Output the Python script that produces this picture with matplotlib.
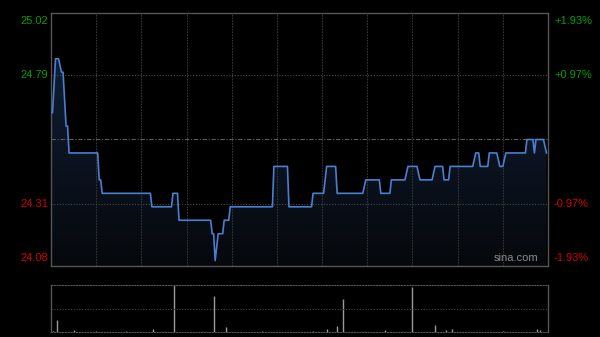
import numpy as np
import matplotlib
matplotlib.use('Agg')
import matplotlib.pyplot as plt
from matplotlib.patches import Polygon

####################################################################################################
# intraday price (minute index from open, price) - step points
minutes = [0, 1, 3, 5, 7, 8, 10, 11, 12, 31, 32, 33, 34, 66, 67, 80, 81, 84, 85,
           106, 107, 108, 109, 111, 114, 115, 118, 119, 147, 148, 157, 158, 173, 174,
           181, 183, 189, 190, 207, 209, 218, 219, 225, 226, 235, 237, 243, 245, 253,
           255, 260, 261, 264, 265, 280, 282, 284, 285, 290, 291, 296, 298, 300, 302,
           315, 316, 320, 321, 322, 327, 329]
prices = [24.65, 24.65, 24.85, 24.85, 24.80, 24.80, 24.60, 24.60, 24.50, 24.50, 24.40, 24.40, 24.35,
          24.35, 24.30, 24.30, 24.35, 24.35, 24.25,
          24.25, 24.20, 24.20, 24.10, 24.20, 24.20, 24.25, 24.25, 24.30, 24.30, 24.45, 24.45, 24.30,
          24.30, 24.35,
          24.35, 24.45, 24.45, 24.35, 24.35, 24.40, 24.40, 24.35, 24.35, 24.40, 24.40, 24.45, 24.45,
          24.40, 24.40,
          24.45, 24.45, 24.40, 24.40, 24.45, 24.45, 24.50, 24.50, 24.45, 24.45, 24.50, 24.50, 24.45,
          24.45, 24.50,
          24.50, 24.55, 24.55, 24.50, 24.55, 24.55, 24.50]

# volume spikes (minute index, volume)
vol_minutes = [1, 4, 15, 30, 50, 68, 82, 108, 116, 140, 174, 183, 190, 194, 222, 240,
               255, 262, 266, 300, 323, 325]
volumes = [1, 12, 2, 1, 1, 3.3, 47, 36, 5, 1, 1, 3.3, 6, 33, 2, 45,
           7.3, 2, 3.3, 1, 3.3, 2]

prev_close = 24.55
y_low, y_high = 24.08, 25.02
left_ticks = [25.02, 24.79, 24.31, 24.08]
right_ticks = ['+1.93%', '+0.97%', '-0.97%', '-1.93%']
total_minutes = 330

####################################################################################################
plt.rcParams['font.family'] = ['Liberation Sans', 'DejaVu Sans']

fig = plt.figure(figsize=(6, 3.37), dpi=100, facecolor='black')
ax = fig.add_axes([51/600, 1 - 266/337, 497/600, 253/337], facecolor='black')
axv = fig.add_axes([51/600, 1 - 332/337, 497/600, 47/337], facecolor='black')

ax.set_xlim(0, total_minutes)
ax.set_ylim(y_low, y_high)

# gradient fill under the line
poly = Polygon(list(zip(minutes, prices)) + [(minutes[-1], y_low), (minutes[0], y_low)],
               closed=True, facecolor='none', edgecolor='none')
ax.add_patch(poly)
grad = np.linspace(1, 0, 256).reshape(-1, 1)
top_c = np.array([16, 30, 52]) / 255
bot_c = np.array([6, 8, 12]) / 255
img = top_c * grad[..., None] + bot_c * (1 - grad[..., None])
im = ax.imshow(img, extent=[0, total_minutes, y_low, max(prices)], aspect='auto',
               origin='upper', zorder=1)
im.set_clip_path(poly)

ax.plot(minutes, prices, color='#4a7fd0', lw=1.2, zorder=4)

# grid
for m in range(30, total_minutes, 30):
    ax.axvline(m, color='#353535', lw=0.8, ls=(0, (1.5, 1)), zorder=2)
for p in [24.79, 24.31]:
    ax.axhline(p, color='#4a4a4a', lw=0.8, ls=(0, (1, 1.5)), zorder=2)
ax.axhline(prev_close, color='#5a5a5a', lw=0.8, ls=(0, (4, 1.5, 1, 1.5)), zorder=2)

for s in ax.spines.values():
    s.set_color('#555555')
    s.set_linewidth(1)
ax.set_xticks([])
ax.set_yticks([])

# axis labels
colors = ['#00a000', '#00a000', '#d00000', '#d00000']
vas = ['top', 'center', 'center', 'bottom']
for p, lab, c, va in zip(left_ticks, right_ticks, colors, vas):
    yy = p
    if va == 'top':
        yy = p - 0.012
    elif va == 'bottom':
        yy = p + 0.012
    ax.text(-0.006, yy, f'{p:.2f}', transform=ax.get_yaxis_transform(), ha='right',
            va=va, color=c, fontsize=8)
    ax.text(1.012, yy, lab, transform=ax.get_yaxis_transform(), ha='left',
            va=va, color=c, fontsize=8)

ax.text(0.98, 0.012, 'sina.com', transform=ax.transAxes, ha='right', va='bottom',
        color='#8a8a8a', fontsize=8, zorder=5)

####################################################################################################
axv.set_xlim(0, total_minutes)
axv.set_ylim(0, 47)
axv.vlines(vol_minutes, 0, volumes, color='#9a9a9a', lw=1)
axv.axhline(23.5, color='#444444', lw=0.8, ls=(0, (1, 1.5)))
axv.set_xticks([])
axv.set_yticks([])
for side in ['top', 'bottom']:
    axv.spines[side].set_color('#555555')
    axv.spines[side].set_linestyle((0, (1, 1.5)))
    axv.spines[side].set_linewidth(0.8)
for side in ['left', 'right']:
    axv.spines[side].set_color('#555555')
    axv.spines[side].set_linewidth(1)

fig.savefig('out.png', dpi=100, facecolor='black')
